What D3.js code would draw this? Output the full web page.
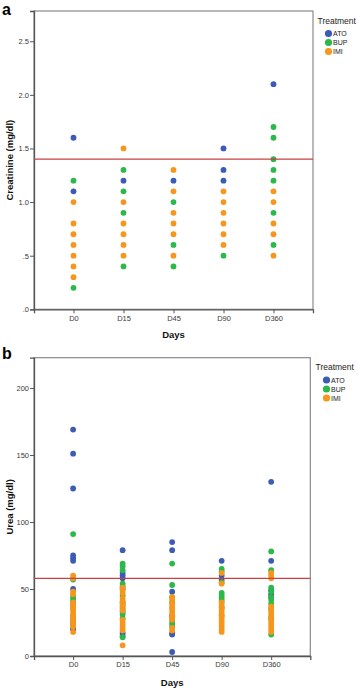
<!DOCTYPE html>
<html>
<head>
<meta charset="utf-8">
<script src="https://cdn.jsdelivr.net/npm/d3@7"></script>
<style>
  body { margin: 0; background: #fff; }
  text { font-family: 'Liberation Sans', Arial, sans-serif; }
  .tick text { fill: #3a3a3a; font-size: 7.5px; }
  .axis-label { font-weight: bold; font-size: 9.5px; fill: #111; }
  .panel-letter { font-weight: bold; font-size: 16px; fill: #000; }
</style>
</head>
<body>
<svg width="358" height="689"></svg>
<script>
const days = ['D0', 'D15', 'D45', 'D90', 'D360'];
const treatments = ['ATO', 'BUP', 'IMI'];
const colors = ['#3b5bb5', '#2db84b', '#f7961d'];

// creatinine (mg/dl), per day
const creatATO = [[1.6, 1.1], [1.2], [1.2], [1.5, 1.3, 1.2], [2.1]];
const creatBUP = [[1.2, 0.2], [1.3, 1.1, 0.9, 0.4], [1.0, 0.6, 0.4], [0.5], [1.7, 1.6, 1.4, 1.3, 1.2, 0.9, 0.6]];
const creatIMI = [
  [1.0, 0.8, 0.7, 0.6, 0.5, 0.4, 0.3],
  [1.5, 1.0, 0.8, 0.7, 0.6, 0.5],
  [1.3, 1.1, 0.9, 0.8, 0.7, 0.5],
  [1.1, 1.0, 0.9, 0.8, 0.7, 0.6],
  [1.1, 1.0, 0.8, 0.7, 0.5]
];
const creatTicks = [0, 0.5, 1.0, 1.5, 2.0, 2.5];
const creatTickLabels = ['.0', '.5', '1.0', '1.5', '2.0', '2.5'];
const creatRef = 1.4;

// urea (mg/dl), per day
const ureaATO = [
  [169, 151, 125, 75, 73, 71, 50, 24, 20],
  [79, 62, 60, 58, 50, 40, 33, 17, 15],
  [85, 79, 48, 30, 17, 16, 3],
  [71, 60, 57],
  [130, 71, 49, 46, 44]
];
const ureaBUP = [
  [91, 57, 45, 43, 41, 39, 36, 30, 27, 22],
  [69, 67, 64, 54, 52, 45, 38, 35, 31, 28, 14],
  [69, 53, 44, 40, 26, 24, 22],
  [65, 63, 55, 47, 45, 43, 41, 36, 30],
  [78, 64, 51, 48, 44, 42, 39, 35, 28, 16]
];
const ureaIMI = [
  [60, 58, 48, 46, 40, 38, 37, 35, 34, 32, 30, 28, 26, 24, 22, 18],
  [51, 49, 47, 43, 41, 39, 37, 36, 34, 27, 25, 23, 21, 19, 8],
  [44, 42, 40, 38, 36, 35, 33, 31, 29, 28, 27, 21, 19],
  [62, 54, 40, 38, 36, 34, 32, 30, 28, 26, 24, 22, 20, 18],
  [62, 60, 58, 37, 35, 33, 31, 29, 26, 24, 22, 20, 18]
];
const ureaTicks = [0, 50, 100, 150, 200];
const ureaTickLabels = ['0', '50', '100', '150', '200'];
const ureaRef = 58;

const svg = d3.select('svg');

const toPoints = series => {
  const pts = [];
  series.forEach((s, ti) => {
    s.forEach((vals, di) => {
      vals.forEach(v => pts.push({ day: days[di], value: v, treatment: treatments[ti] }));
    });
  });
  return pts;
};

const colorScale = d3.scaleOrdinal().domain(treatments).range(colors);

const renderPanel = opts => {
  const { letter, letterY, box, yMax, ticks, tickLabels, ref, series, yLabel, legendX, legendY, daysY } = opts;

  const xScale = d3.scalePoint()
    .domain(days)
    .range([box.left, box.right])
    .padding(0.79);

  const yScale = d3.scaleLinear()
    .domain([0, yMax])
    .range([box.bottom, box.top]);

  const g = svg.append('g');

  // frame
  g.append('rect')
    .attr('x', box.left)
    .attr('y', box.top)
    .attr('width', box.right - box.left)
    .attr('height', box.bottom - box.top)
    .attr('fill', 'none')
    .attr('stroke', '#8a8a8a')
    .attr('stroke-width', 1.2);

  const yAxis = d3.axisLeft(yScale)
    .tickValues(ticks)
    .tickFormat((d, i) => tickLabels[i])
    .tickSize(4)
    .tickPadding(1);
  const yAxisG = g.append('g')
    .attr('transform', `translate(${box.left}, 0)`)
    .call(yAxis);
  yAxisG.select('.domain').attr('stroke', '#555').attr('stroke-width', 1.3);
  yAxisG.selectAll('.tick line').attr('stroke', '#555');

  const xAxis = d3.axisBottom(xScale)
    .tickSize(4)
    .tickPadding(2);
  const xAxisG = g.append('g')
    .attr('transform', `translate(0, ${box.bottom})`)
    .call(xAxis);
  xAxisG.select('.domain').attr('stroke', '#555').attr('stroke-width', 1.3);
  xAxisG.selectAll('.tick line').attr('stroke', '#555');

  // axis labels
  g.append('text')
    .attr('class', 'axis-label')
    .attr('text-anchor', 'middle')
    .attr('transform', `translate(13, ${(box.top + box.bottom) / 2}) rotate(-90)`)
    .text(yLabel);

  g.append('text')
    .attr('class', 'axis-label')
    .attr('text-anchor', 'middle')
    .attr('x', xScale('D45'))
    .attr('y', box.bottom + daysY)
    .text('Days');

  // points
  g.append('g')
    .selectAll('circle')
    .data(toPoints(series))
    .join('circle')
    .attr('cx', d => xScale(d.day))
    .attr('cy', d => yScale(d.value))
    .attr('r', 2.9)
    .attr('fill', d => colorScale(d.treatment));

  // reference line
  g.append('line')
    .attr('x1', box.left)
    .attr('x2', box.right)
    .attr('y1', yScale(ref))
    .attr('y2', yScale(ref))
    .attr('stroke', '#c94141')
    .attr('stroke-width', 1.3);

  // panel letter
  g.append('text')
    .attr('class', 'panel-letter')
    .attr('x', 2)
    .attr('y', letterY)
    .text(letter);

  // legend
  const lg = g.append('g').attr('transform', `translate(${legendX}, ${legendY})`);
  lg.append('text')
    .attr('x', 0)
    .attr('y', 0)
    .attr('font-size', 8.5)
    .attr('fill', '#222')
    .text('Treatment');
  treatments.forEach((t, i) => {
    lg.append('circle')
      .attr('cx', 11)
      .attr('cy', 10 + i * 9)
      .attr('r', 3.6)
      .attr('fill', colorScale(t));
    lg.append('text')
      .attr('x', 15.5)
      .attr('y', 12.8 + i * 9)
      .attr('font-size', 7)
      .attr('fill', '#222')
      .text(t);
  });
};

renderPanel({
  letter: 'a',
  letterY: 14.5,
  box: { left: 34, right: 313, top: 11, bottom: 309.3 },
  yMax: 2.782,
  ticks: creatTicks,
  tickLabels: creatTickLabels,
  ref: creatRef,
  series: [creatATO, creatBUP, creatIMI],
  yLabel: 'Creatinine (mg/dl)',
  legendX: 317.5,
  legendY: 23.5,
  daysY: 29
});

renderPanel({
  letter: 'b',
  letterY: 358.5,
  box: { left: 34, right: 310.3, top: 357.7, bottom: 656 },
  yMax: 222.6,
  ticks: ureaTicks,
  tickLabels: ureaTickLabels,
  ref: ureaRef,
  series: [ureaATO, ureaBUP, ureaIMI],
  yLabel: 'Urea (mg/dl)',
  legendX: 315.5,
  legendY: 370,
  daysY: 30
});
</script>
</body>
</html>
